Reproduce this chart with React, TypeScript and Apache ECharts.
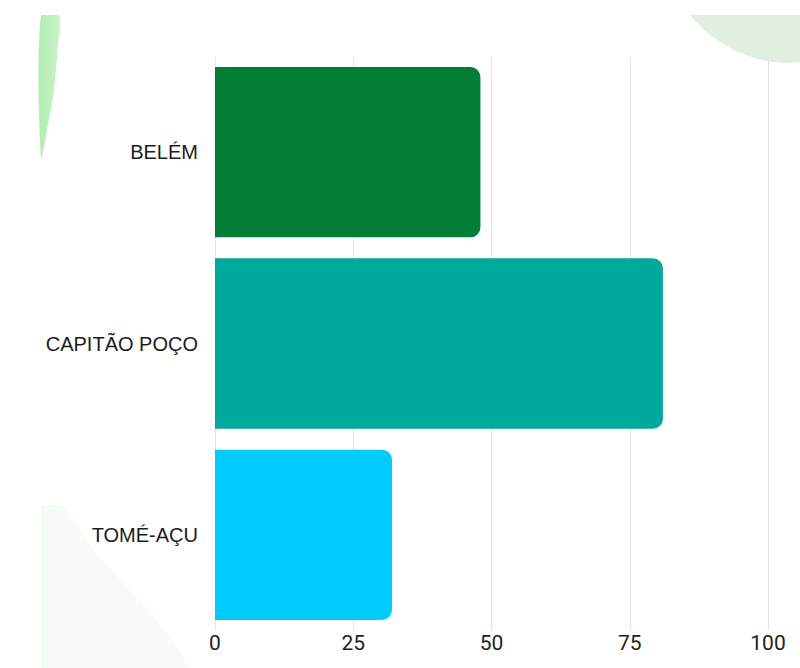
import React, { useEffect, useRef } from "react";
import * as echarts from "echarts";

const categories = ["BELÉM", "CAPITÃO POÇO", "TOMÉ-AÇU"];
const values = [48, 81, 32];
const barColors = ["#027d36", "#00a99b", "#00cbfc"];
const xTicks = { min: 0, max: 100, interval: 25 };

export default function App() {
  const ref = useRef<HTMLDivElement>(null);
  useEffect(() => {
    document.body.style.margin = "0";
    const chart = echarts.init(ref.current!, null, { renderer: "svg" });
    chart.setOption({
      animation: false,
      backgroundColor: "#ffffff",
      grid: { left: 215, right: 32, top: 56.5, bottom: 37.5, containLabel: false },
      xAxis: {
        type: "value",
        min: xTicks.min,
        max: xTicks.max,
        interval: xTicks.interval,
        axisLine: { show: false },
        axisTick: { show: false },
        splitLine: { show: true, lineStyle: { color: "#e6e6e6", width: 1 } },
        axisLabel: {
          color: "#222222",
          fontFamily: "'Liberation Sans Narrow', Roboto, sans-serif",
          fontSize: 21,
          margin: 2,
        },
      },
      yAxis: {
        type: "category",
        data: categories,
        inverse: true,
        axisLine: { show: false },
        axisTick: { show: false },
        axisLabel: {
          color: "#1c1c1c",
          fontFamily: "'Liberation Sans', Arial, sans-serif",
          fontSize: 20,
          margin: 17,
        },
      },
      series: [
        {
          type: "bar",
          barCategoryGap: "11%",
          data: values.map((v, i) => ({ value: v, itemStyle: { color: barColors[i] } })),
          itemStyle: { borderRadius: [0, 10, 10, 0] },
          z: 3,
        },
      ],
      graphic: [
        {
          type: "polygon",
          z: -10,
          silent: true,
          shape: {
            points: [
              [41, 15], [59, 15], [57.5, 50], [54, 90], [48, 125], [41, 158],
            ],
            smooth: 0.3,
          },
          style: {
            fill: new echarts.graphic.LinearGradient(0, 0, 1, 0, [
              { offset: 0, color: "#b3ecb3" },
              { offset: 1, color: "#c8f3c8" },
            ]),
          },
        },
        {
          type: "circle",
          z: -10,
          silent: true,
          shape: { cx: 790, cy: -65, r: 128 },
          style: { fill: "#e1efe0" },
        },
        {
          type: "polygon",
          z: -10,
          silent: true,
          shape: {
            points: [
              [41, 505], [62, 505], [100, 558], [140, 600], [172, 640], [190, 668], [41, 668],
            ],
          },
          style: { fill: "#f6fbf5" },
        },
        {
          type: "rect",
          z: -5,
          silent: true,
          shape: { x: 0, y: 0, width: 800, height: 15 },
          style: { fill: "#ffffff" },
        },
      ],
    });
    return () => chart.dispose();
  }, []);
  return <div ref={ref} style={{ width: 800, height: 668 }} />;
}
